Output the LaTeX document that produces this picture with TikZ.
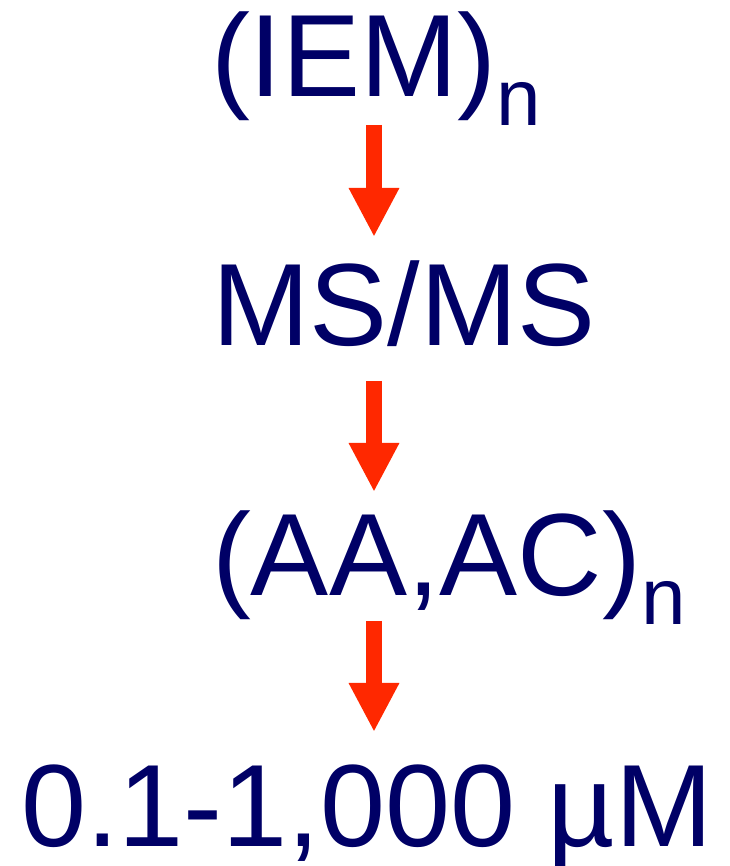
\documentclass[tikz,border=0pt]{standalone}
\usepackage{fontspec}
\setmainfont{Liberation Sans}
\usetikzlibrary{arrows.meta}
\definecolor{navy}{RGB}{0,0,102}
\definecolor{arrowred}{RGB}{255,40,0}
\tikzset{
  bigtext/.style={anchor=base west,inner sep=0pt,outer sep=0pt,text=navy,font=\fontsize{117}{117}\selectfont},
  flowarrow/.style={draw=arrowred,line width=16pt,line cap=butt,-{Triangle[width=47pt,length=49pt,fill=arrowred]}}
}
\newcommand{\subn}{\raisebox{-29pt}{\fontsize{80}{80}\selectfont n}}
\begin{document}
\begin{tikzpicture}[x=1pt,y=1pt]
\useasboundingbox (0,0) rectangle (729,866);
\node[bigtext] (iem) at (211,769) {(IEM)\subn};
\node[bigtext] (ms) at (212,520) {MS/MS};
\node[bigtext] (aac) at (212,270) {(AA,AC)\subn};
\node[bigtext] (conc) at (21,19) {0.1-1,000 µM};
\coordinate (a1s) at (374,741);
\coordinate (a1e) at (374,629);
\coordinate (a2s) at (374,485);
\coordinate (a2e) at (374,374);
\coordinate (a3s) at (374,245);
\coordinate (a3e) at (374,134);
\draw[flowarrow] (a1s) -- (a1e);
\draw[flowarrow] (a2s) -- (a2e);
\draw[flowarrow] (a3s) -- (a3e);
\end{tikzpicture}
\end{document}
